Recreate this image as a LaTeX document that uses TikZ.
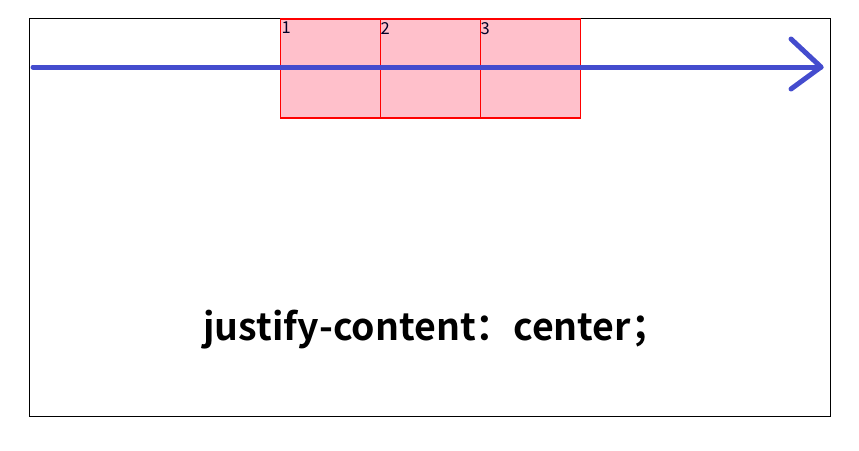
\documentclass[tikz,border=0pt]{standalone}
\usepackage{fontspec}
\setmainfont{Noto Sans CJK SC}
\newfontfamily\boldcjk{Noto Sans CJK SC Bold}
\definecolor{boxpink}{RGB}{255,192,203}
\definecolor{arrowblue}{RGB}{68,76,206}
\begin{document}
\begin{tikzpicture}[x=1pt,y=-1pt,
  item/.style={draw=red, fill=boxpink, line width=1.2pt, minimum width=100pt, minimum height=99pt, inner sep=0pt, outer sep=0pt, anchor=north west},
  lbl/.style={font=\fontsize{16.5}{16.5}\selectfont, text=black!85!blue, inner sep=0pt, anchor=north west},
  axis/.style={draw=arrowblue, line width=5pt, line cap=round, line join=round}]
\useasboundingbox (0,0) rectangle (859,450);
\draw[line width=1pt] (29.5,18.5) rectangle (830,416);
\node[item] (b1) at (280.5,19) {};
\node[item] (b2) at (380.5,19) {};
\node[item] (b3) at (480.5,19) {};
\node[lbl] (l1) at (281.5,22) {1};
\node[lbl] (l2) at (380.5,22) {2};
\node[lbl] (l3) at (480.5,22) {3};
\coordinate (s) at (33,67);
\coordinate (e) at (821,67);
\coordinate (h1) at (791,39);
\coordinate (h2) at (791,89);
\draw[axis] (s) -- (e);
\draw[axis] (h1) -- (e) -- (h2);
\node[font=\boldcjk\fontsize{37.5}{37.5}\selectfont, inner sep=0pt, anchor=base] (t) at (436,340) {justify-content：center；};
\end{tikzpicture}
\end{document}
